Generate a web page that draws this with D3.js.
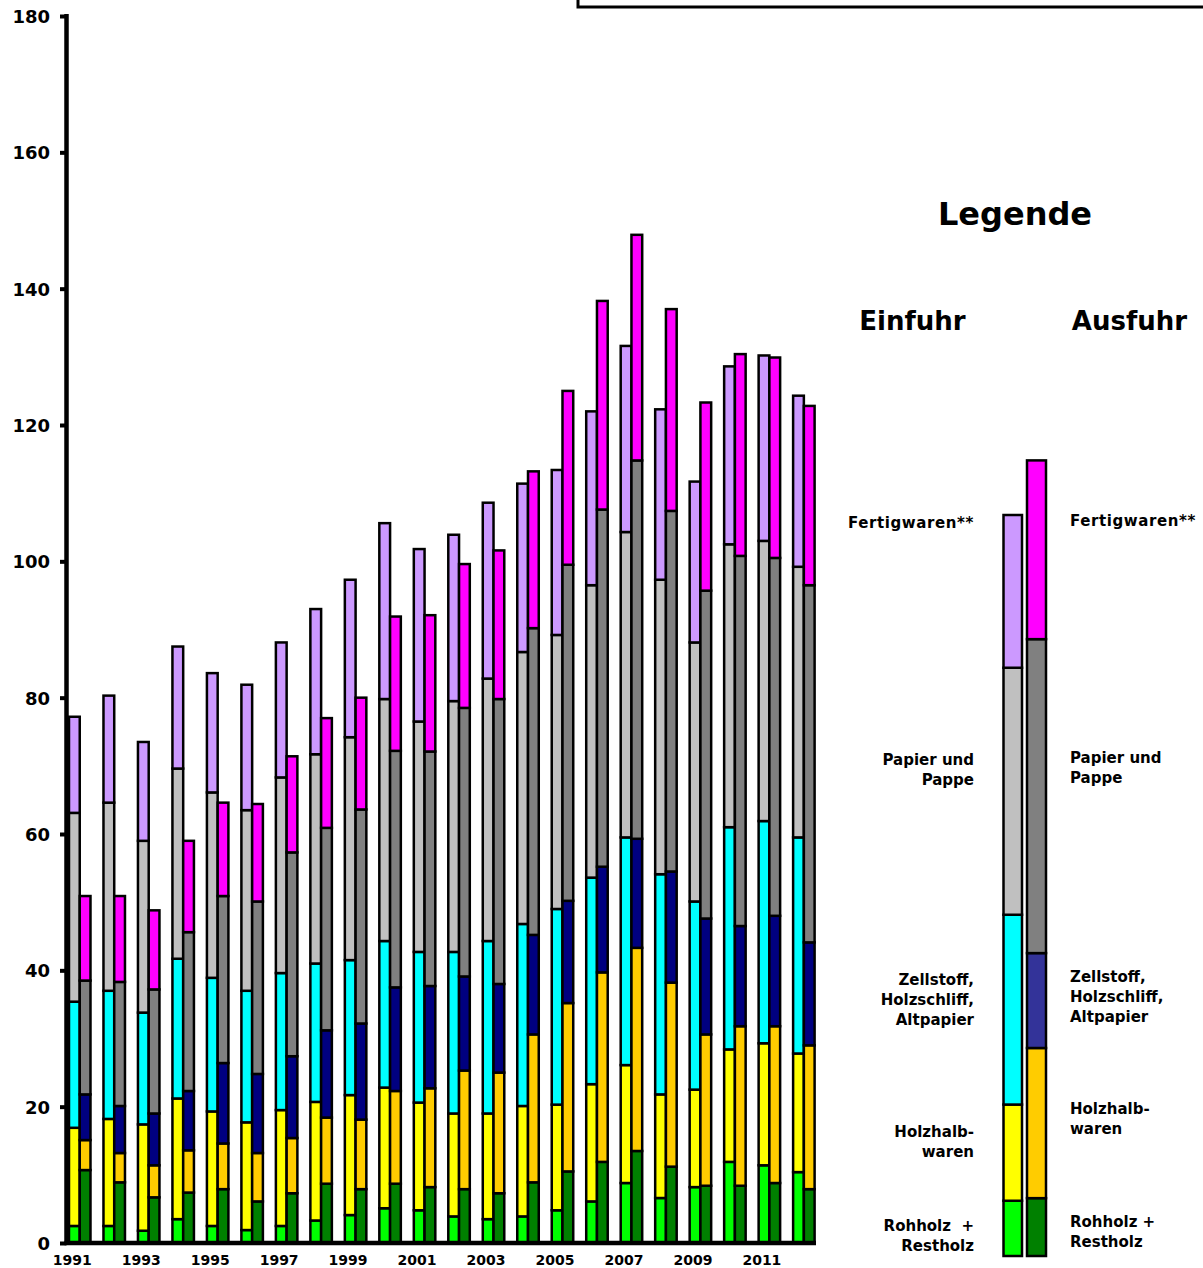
<!DOCTYPE html>
<html>
<head>
<meta charset="utf-8">
<script src="https://cdn.jsdelivr.net/npm/d3@7"></script>
<style>
    body { margin: 0; background: #fff; }
    svg { display: block; }
    text { font-family: "DejaVu Sans", Verdana, sans-serif; font-weight: bold; fill: #000; }
</style>
</head>
<body>
<div id="chart"></div>
<script>
// categories
const years = [1991, 1992, 1993, 1994, 1995, 1996, 1997, 1998, 1999, 2000, 2001,
               2002, 2003, 2004, 2005, 2006, 2007, 2008, 2009, 2010, 2011, 2012];
const labelYears = years.filter(d => d % 2 === 1);
const yTicks = [0, 20, 40, 60, 80, 100, 120, 140, 160, 180];

// Einfuhr (import), stacked bottom -> top
const einRohholz   = [2.5, 2.5, 1.8, 3.5, 2.5, 1.9, 2.5, 3.3, 4.1, 5.1, 4.8, 3.9, 3.5, 3.9, 4.8, 6.1, 8.8, 6.6, 8.2, 11.9, 11.4, 10.4];
const einHalbwaren = [14.4, 15.7, 15.6, 17.7, 16.8, 15.8, 17.0, 17.4, 17.6, 17.7, 15.8, 15.1, 15.5, 16.2, 15.5, 17.2, 17.3, 15.2, 14.3, 16.5, 17.9, 17.4];
const einZellstoff = [18.5, 18.8, 16.4, 20.5, 19.6, 19.3, 20.1, 20.3, 19.8, 21.5, 22.1, 23.7, 25.3, 26.7, 28.7, 30.3, 33.4, 32.3, 27.6, 32.6, 32.6, 31.7];
const einPapier    = [27.7, 27.6, 25.2, 27.9, 27.2, 26.5, 28.7, 30.7, 32.7, 35.5, 33.8, 36.8, 38.5, 39.9, 40.2, 42.9, 44.8, 43.2, 38.0, 41.5, 41.1, 39.7];
const einFertig    = [14.1, 15.7, 14.5, 17.9, 17.5, 18.4, 19.8, 21.3, 23.1, 25.8, 25.3, 24.4, 25.8, 24.7, 24.2, 25.5, 27.3, 25.0, 23.6, 26.1, 27.2, 25.1];

// Ausfuhr (export), stacked bottom -> top
const ausRohholz   = [10.7, 8.9, 6.7, 7.4, 7.9, 6.1, 7.3, 8.7, 7.9, 8.7, 8.2, 7.9, 7.3, 8.9, 10.5, 11.9, 13.5, 11.2, 8.4, 8.4, 8.8, 7.9];
const ausHalbwaren = [4.4, 4.3, 4.7, 6.2, 6.7, 7.1, 8.1, 9.7, 10.2, 13.6, 14.5, 17.4, 17.7, 21.7, 24.7, 27.8, 29.8, 27.0, 22.2, 23.4, 23.0, 21.1];
const ausZellstoff = [6.7, 6.9, 7.6, 8.7, 11.8, 11.6, 12.0, 12.8, 14.1, 15.2, 15.0, 13.8, 13.0, 14.6, 15.0, 15.5, 16.0, 16.3, 17.0, 14.7, 16.2, 15.1];
const ausPapier    = [16.7, 18.2, 18.2, 23.3, 24.5, 25.3, 29.9, 29.7, 31.4, 34.7, 34.4, 39.4, 41.8, 45.0, 49.3, 52.4, 55.5, 52.9, 48.1, 54.3, 52.5, 52.4];
const ausFertig    = [12.4, 12.6, 11.6, 13.4, 13.7, 14.3, 14.1, 16.1, 16.4, 19.7, 20.0, 21.1, 21.8, 23.0, 25.5, 30.6, 33.1, 29.6, 27.6, 29.6, 29.4, 26.3];

// legend swatch bars (sample stacks)
const legendEin = [8.5, 14.8, 29.2, 38.0, 23.5];
const legendAus = [8.9, 23.1, 14.6, 48.3, 27.5];

const keys = ["rohholz", "halbwaren", "zellstoff", "papier", "fertig"];
const einColours = ["#00ff00", "#ffff00", "#00ffff", "#c0c0c0", "#cc99ff"];
const ausColours = ["#008000", "#ffcc00", "#000080", "#808080", "#ff00ff"];
const legendAusColours = ["#008000", "#ffcc00", "#333399", "#808080", "#ff00ff"];

const einLabels = [["Rohholz  +", "Restholz"], ["Holzhalb-", "waren"], ["Zellstoff,", "Holzschliff,", "Altpapier"], ["Papier und", "Pappe"], ["Fertigwaren**"]];
const ausLabels = [["Rohholz +", "Restholz"], ["Holzhalb-", "waren"], ["Zellstoff,", "Holzschliff,", "Altpapier"], ["Papier und", "Pappe"], ["Fertigwaren**"]];

const width = 1203, height = 1268;

const svg = d3.select("#chart")
    .append("svg")
    .attr("width", width)
    .attr("height", height);

// box at the top (title frame, cut off)
svg.append("rect")
    .attr("x", 578).attr("y", -10)
    .attr("width", 680).attr("height", 17)
    .attr("fill", "#fff")
    .attr("stroke", "#000")
    .attr("stroke-width", 3);

// Scales
const y = d3.scaleLinear()
    .domain([0, 180])
    .range([1243, 16]);

const x0 = d3.scaleBand()
    .domain(years)
    .range([62.5, 821.1])
    .paddingInner(0.3765)
    .paddingOuter(0.3765 / 2);

const x1 = d3.scaleBand()
    .domain(["ein", "aus"])
    .range([0, x0.bandwidth()]);

// build rows
const einRows = years.map((yr, i) => ({
    year: yr, rohholz: einRohholz[i], halbwaren: einHalbwaren[i],
    zellstoff: einZellstoff[i], papier: einPapier[i], fertig: einFertig[i]
}));
const ausRows = years.map((yr, i) => ({
    year: yr, rohholz: ausRohholz[i], halbwaren: ausHalbwaren[i],
    zellstoff: ausZellstoff[i], papier: ausPapier[i], fertig: ausFertig[i]
}));

const stack = d3.stack().keys(keys);

function drawStacks(rows, side, colours) {
    const series = stack(rows);
    svg.append("g")
        .selectAll("g")
        .data(series)
        .join("g")
        .attr("fill", (d, i) => colours[i])
        .selectAll("rect")
        .data(d => d)
        .join("rect")
        .attr("x", d => x0(d.data.year) + x1(side))
        .attr("y", d => y(d[1]))
        .attr("width", x1.bandwidth())
        .attr("height", d => y(d[0]) - y(d[1]))
        .attr("stroke", "#000")
        .attr("stroke-width", 2.5);
}

drawStacks(einRows, "ein", einColours);
drawStacks(ausRows, "aus", ausColours);

// Y axis
const yAxis = svg.append("g")
    .attr("transform", "translate(66.5,0)")
    .call(d3.axisLeft(y).tickValues(yTicks).tickSize(6.5).tickSizeOuter(0).tickPadding(10));
yAxis.select(".domain").attr("stroke-width", 4.5).attr("d", "M0,14V1245");
yAxis.selectAll(".tick line").attr("stroke-width", 4);
yAxis.selectAll(".tick text")
    .style("font-size", "18px")
    .style("font-family", "'DejaVu Sans', Verdana, sans-serif")
    .style("font-weight", "bold")
    .attr("dy", "0.36em");

// X axis
svg.append("line")
    .attr("x1", 64.5).attr("x2", 816)
    .attr("y1", 1243).attr("y2", 1243)
    .attr("stroke", "#000")
    .attr("stroke-width", 4.5);

const xAxis = svg.append("g")
    .attr("transform", "translate(0,1243)")
    .call(d3.axisBottom(x0).tickValues(labelYears).tickSize(0).tickPadding(12));
xAxis.select(".domain").remove();
xAxis.selectAll(".tick text")
    .attr("dx", -7.5)
    .style("font-size", "14px")
    .style("font-family", "'DejaVu Sans', Verdana, sans-serif")
    .style("font-weight", "bold");

// Legend
svg.append("text")
    .attr("x", 1015).attr("y", 225)
    .attr("text-anchor", "middle")
    .style("font-size", "32px")
    .text("Legende");

svg.append("text")
    .attr("x", 912.5).attr("y", 330)
    .attr("text-anchor", "middle")
    .style("font-size", "26px")
    .text("Einfuhr");

svg.append("text")
    .attr("x", 1129.5).attr("y", 330)
    .attr("text-anchor", "middle")
    .style("font-size", "26px")
    .text("Ausfuhr");

const legendY = d3.scaleLinear()
    .domain([0, 120])
    .range([1256, 476]);

function drawLegendBar(values, xPos, w, colours) {
    let acc = 0;
    const segs = values.map(v => { const s = [acc, acc + v]; acc += v; return s; });
    svg.append("g")
        .selectAll("rect")
        .data(segs)
        .join("rect")
        .attr("x", xPos)
        .attr("y", d => legendY(d[1]))
        .attr("width", w)
        .attr("height", d => legendY(d[0]) - legendY(d[1]))
        .attr("fill", (d, i) => colours[i])
        .attr("stroke", "#000")
        .attr("stroke-width", 2.5);
}

drawLegendBar(legendEin, 1003.5, 18.5, einColours);
drawLegendBar(legendAus, 1027, 19, legendAusColours);

// legend label baselines (first line of each block)
const einLabelY = [1231, 1137, 985, 765, 528];
const ausLabelY = [1227, 1114, 982, 763, 526];

function drawLegendLabels(labels, baseYs, xPos, anchor) {
    labels.forEach((lines, i) => {
        const t = svg.append("text")
            .attr("x", xPos)
            .attr("y", baseYs[i])
            .attr("text-anchor", anchor)
            .style("font-size", "15px")
            .style("white-space", "pre");
        lines.forEach((line, j) => {
            t.append("tspan")
                .attr("x", xPos)
                .attr("y", baseYs[i] + j * 20)
                .style("letter-spacing", line.includes("**") ? "0.6px" : null)
                .text(line);
        });
    });
}

drawLegendLabels(einLabels, einLabelY, 974, "end");
drawLegendLabels(ausLabels, ausLabelY, 1070, "start");
</script>
</body>
</html>
